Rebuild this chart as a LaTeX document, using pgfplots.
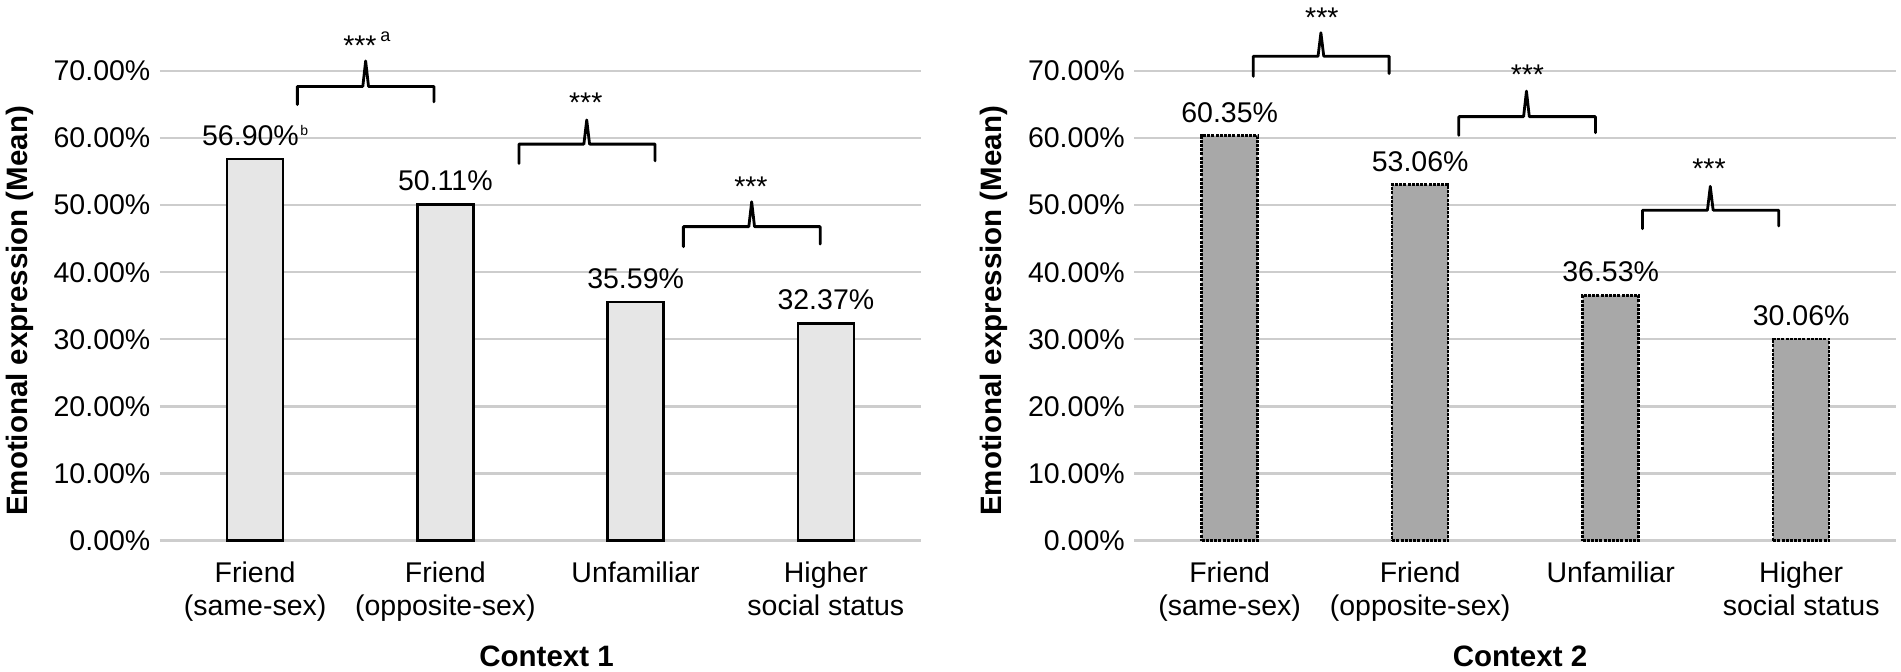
\documentclass[border=0pt]{standalone}
\usepackage{fontspec}
\setmainfont{Liberation Sans}
\usepackage{pgfplots}
\pgfplotsset{compat=1.18}
\definecolor{gridc}{HTML}{CDCDCD}
\definecolor{barA}{HTML}{E6E6E6}
\definecolor{barB}{HTML}{A8A8A8}
\newcommand{\fs}{\fontsize{28.5}{33.5}\selectfont}
\DeclareRobustCommand{\supb}{\hspace{1.5pt}\raisebox{10pt}{\fontsize{14}{14}\selectfont b}}

\tikzset{
 stars/.style={font=\fs, anchor=base, inner sep=0pt},
 supa/.style={font=\fontsize{18}{18}\selectfont, anchor=base, inner sep=0pt},
}
\pgfplotsset{
 mystyle/.style={
  scale only axis, width=761pt, height=469.5pt,
  xmin=-0.5, xmax=3.5, ymin=0, ymax=70,
  axis line style={draw=none},
  major tick length=0pt,
  ytick={0,10,20,30,40,50,60,70},
  yticklabels={0.00\%,10.00\%,20.00\%,30.00\%,40.00\%,50.00\%,60.00\%,70.00\%},
  xtick={0,1,2,3},
  xticklabels={{Friend\\(same-sex)},{Friend\\(opposite-sex)},{Unfamiliar},{Higher\\social status}},
  ymajorgrids, major grid style={gridc, line width=2.4pt},
  tick label style={font=\fs, inner sep=0pt},
  yticklabel style={anchor=east, xshift=-9.5pt},
  xticklabel style={align=center, anchor=north, yshift=-21pt},
  ylabel={Emotional expression (Mean)},
  ylabel style={font=\fontsize{29.5}{33}\selectfont\bfseries, at={(axis description cs:-0.184,0.489)}, anchor=center, inner sep=0pt},
  xlabel style={font=\fontsize{29.5}{33}\selectfont\bfseries, at={(axis description cs:0.508,-0.2688)}, anchor=base, inner sep=0pt},
  clip=false,
 },
 bracket/.style={sharp plot, black, line width=2.8pt, line join=round, line cap=round, mark=none},
 barlabels/.style={nodes near coords, point meta=explicit symbolic,
   every node near coord/.append style={font=\fs, inner sep=0pt, anchor=south, yshift=12pt, black, solid}},
}

\begin{document}
\begin{tikzpicture}
\useasboundingbox (0,0) rectangle (1901pt,672pt);

% ---------------- Context 1 ----------------
\begin{axis}[mystyle, at={(160pt,131.5pt)}, anchor=south west, xlabel={Context 1}]
\addplot[ybar, bar width=56pt, bar shift=0pt, fill=barA, draw=black, line width=2.5pt, barlabels]
 coordinates {(0,56.90) [56.90\%\supb] (1,50.11) [50.11\%] (2,35.59) [35.59\%] (3,32.37) [32.37\%]};
% significance brackets
\addplot[bracket] coordinates {(0.222,64.98) (0.222,67.7) (0.566,67.7) (0.581,71.5) (0.596,67.7) (0.940,67.7) (0.940,65.4)};
\addplot[bracket] coordinates {(1.387,56.2) (1.387,59.1) (1.728,59.1) (1.743,62.7) (1.758,59.1) (2.102,59.1) (2.102,56.6)};
\addplot[bracket] coordinates {(2.251,43.8) (2.251,46.8) (2.595,46.8) (2.610,50.5) (2.625,46.8) (2.970,46.8) (2.970,44.2)};
\node[stars] at (axis cs:0.551,72.3) {***};
\node[supa] at (axis cs:0.685,74.37) {a};
\node[stars] at (axis cs:1.738,63.75) {***};
\node[stars] at (axis cs:2.606,51.24) {***};
\end{axis}

% ---------------- Context 2 ----------------
\begin{axis}[mystyle, at={(1134.4pt,131.5pt)}, anchor=south west, width=762pt, xlabel={Context 2},
  xlabel style={at={(axis description cs:0.506,-0.2688)}}]
\addplot[ybar, bar width=56pt, bar shift=0pt, fill=barB, draw=black, line width=2.5pt, dash pattern=on 3pt off 1.2pt, barlabels]
 coordinates {(0,60.35) [60.35\%] (1,53.06) [53.06\%] (2,36.53) [36.53\%] (3,30.06) [30.06\%]};
\addplot[bracket] coordinates {(0.124,69.2) (0.124,72.2) (0.464,72.2) (0.479,75.7) (0.494,72.2) (0.837,72.2) (0.837,69.6)};
\addplot[bracket] coordinates {(1.203,60.4) (1.203,63.2) (1.543,63.2) (1.558,67.0) (1.573,63.2) (1.920,63.2) (1.920,60.8)};
\addplot[bracket] coordinates {(2.167,46.5) (2.167,49.25) (2.508,49.25) (2.523,52.8) (2.538,49.25) (2.882,49.25) (2.882,46.9)};
\node[stars] at (axis cs:0.484,76.5) {***};
\node[stars] at (axis cs:1.563,68.0) {***};
\node[stars] at (axis cs:2.516,54.0) {***};
\end{axis}
\end{tikzpicture}
\end{document}
